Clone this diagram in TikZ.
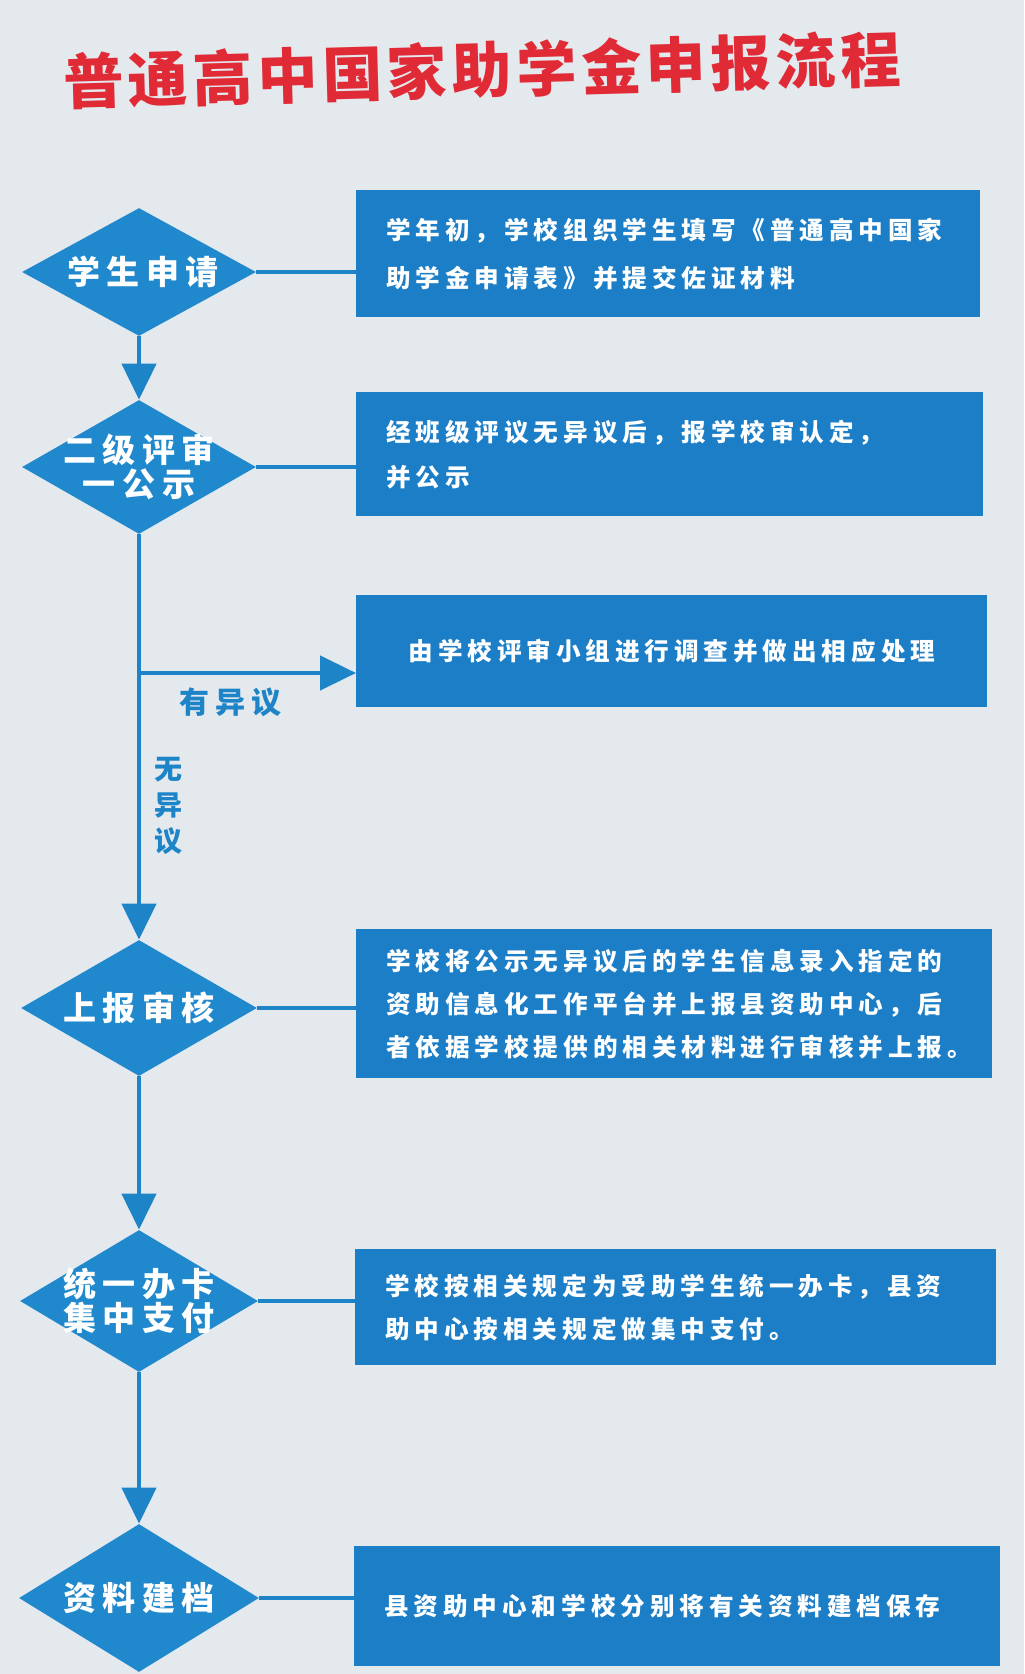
\documentclass[tikz,border=0pt]{standalone}
\usepackage{fontspec}
\setmainfont{Noto Sans CJK SC}
\newfontfamily\titlefont{Noto Sans CJK SC}[LetterSpace=8]
\newfontfamily\spfont{Noto Sans CJK SC}[LetterSpace=20]
\usetikzlibrary{shapes.geometric,arrows.meta,calc}
\definecolor{bgcol}{HTML}{E4E9EE}
\definecolor{boxblue}{HTML}{1C7EC6}
\definecolor{diablue}{HTML}{2088CC}
\definecolor{linkblue}{HTML}{1E84C8}
\definecolor{titlered}{HTML}{E02A35}
\begin{document}
\begin{tikzpicture}[x=1pt,y=1pt,
  dia/.style={diamond, fill=diablue, inner sep=0pt, minimum width=117pt},
  dtext/.style={text=white, font=\spfont\bfseries\fontsize{16.5}{17}\selectfont, align=center, inner sep=0pt},
  infobox/.style={rectangle, fill=boxblue, inner xsep=15pt, inner ysep=0pt, text=white, font=\spfont\bfseries\fontsize{12}{22}\selectfont, align=left, anchor=north west},
  link/.style={draw=linkblue, line width=2.3pt},
  flow/.style={link, -{Triangle[width=17pt,length=18pt]}},
  lbl/.style={text=linkblue, font=\spfont\bfseries\fontsize{15}{18}\selectfont, inner sep=0pt}
]
\fill[bgcol] (0,0) rectangle (512,-837);
\useasboundingbox (0,0) rectangle (512,-837);

% title
\node[text=titlered, font=\titlefont\bfseries\fontsize{30}{32}\selectfont, rotate=1.6] (title) at (241,-35) {普通高中国家助学金申报流程};

% diamonds
\node[dia, minimum height=64pt, label={[dtext, xshift=2pt]center:学生申请}] (d1) at (69.5,-136) {};
\node[dia, minimum height=67pt, label={[dtext]center:{二级评审\\一公示}}] (d2) at (69.5,-233.5) {};
\node[dia, minimum height=68pt, minimum width=118pt, label={[dtext]center:上报审核}] (d3) at (69.5,-504) {};
\node[dia, minimum height=71pt, minimum width=119pt, label={[dtext]center:{统一办卡\\集中支付}}] (d4) at (69.5,-650.5) {};
\node[dia, minimum height=74pt, minimum width=120pt, label={[dtext]center:资料建档}] (d5) at (69.5,-799) {};

% boxes
\node[infobox, text width=282pt, minimum height=63.5pt, font=\spfont\bfseries\fontsize{12.3}{24}\selectfont] (b1) at (178,-95)
  {学年初，学校组织学生填写《普通高中国家\\助学金申请表》并提交佐证材料};
\node[infobox, text width=283.5pt, minimum height=62pt, font=\spfont\bfseries\fontsize{12.3}{22.5}\selectfont] (b2) at (178,-196)
  {经班级评议无异议后，报学校审认定，\\并公示};
\node[infobox, text width=285.5pt, minimum height=56pt, align=center, font=\spfont\bfseries\fontsize{12.3}{22}\selectfont] (b3) at (178,-297.5)
  {由学校评审小组进行调查并做出相应处理};
\node[infobox, text width=288pt, minimum height=74.5pt, font=\spfont\bfseries\fontsize{12.3}{21.5}\selectfont] (b4) at (178,-464.5)
  {学校将公示无异议后的学生信息录入指定的\\资助信息化工作平台并上报县资助中心，后\\者依据学校提供的相关材料进行审核并上报。};
\node[infobox, text width=290.5pt, minimum height=58pt, font=\spfont\bfseries\fontsize{12.3}{21.5}\selectfont] (b5) at (177.5,-624.5)
  {学校按相关规定为受助学生统一办卡，县资\\助中心按相关规定做集中支付。};
\node[infobox, text width=293pt, minimum height=60pt, font=\spfont\bfseries\fontsize{12.3}{22}\selectfont] (b6) at (177,-773)
  {县资助中心和学校分别将有关资料建档保存};

% labels
\node[lbl] (yes) at (115,-351) {有异议};
\node[lbl, align=center, font=\bfseries\fontsize{14}{17.8}\selectfont] (no) at (84,-403) {无\\异\\议};

% connectors
\draw[link] (d1.east) -- (d1.east -| b1.west);
\draw[link] (d2.east) -- (d2.east -| b2.west);
\draw[link] (d3.east) -- (d3.east -| b4.west);
\draw[link] (d4.east) -- (d4.east -| b5.west);
\draw[link] (d5.east) -- (d5.east -| b6.west);
\draw[flow] (d1.south) -- (d2.north);
\draw[flow] (d2.south) -- (d3.north);
\coordinate (br) at (69.5,-336.5);
\draw[flow] (br) -- (br -| b3.west);
\draw[flow] (d3.south) -- (d4.north);
\draw[flow] (d4.south) -- (d5.north);
\end{tikzpicture}
\end{document}
